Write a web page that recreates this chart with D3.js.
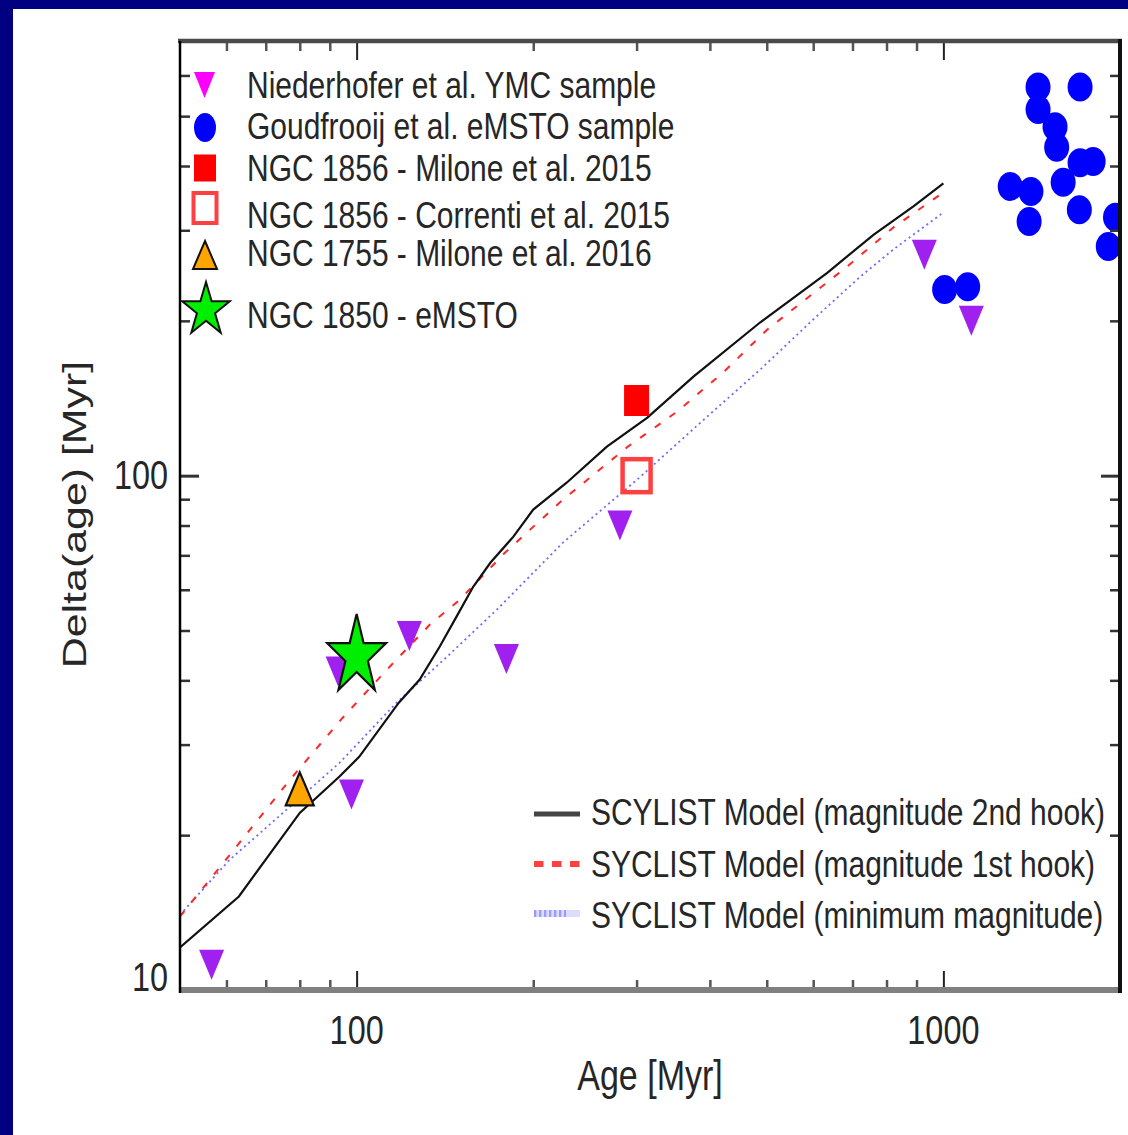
<!DOCTYPE html>
<html>
<head>
<meta charset="utf-8">
<script src="https://cdn.jsdelivr.net/npm/d3@7"></script>
<style>
  body { margin: 0; background: #fff; }
  text { font-family: "Liberation Sans", Arial, sans-serif; fill: #262626; }
</style>
</head>
<body>
<script>
// ---- data (Age and Delta(age), both in Myr) ----
const ymcAge   = [56.6, 98, 93, 123, 180, 281, 928, 1116]
const ymcDelta = [11.2, 24, 41.6, 48.8, 44, 80, 269, 200]

const emstoAge   = [1450, 1710, 1450, 1550, 1560, 1710, 1800, 1600, 1705, 1300, 1410, 1400, 1965, 1910, 1005, 1100]
const emstoDelta = [570, 570, 515, 477, 435, 406, 408, 372, 329, 365, 357, 312, 318, 279, 230, 233]

const milone15Age = [300],  milone15Delta = [140]
const correntiAge = [300],  correntiDelta = [100]
const milone16Age = [80],   milone16Delta = [24.6]
const ngc1850Age  = [100],  ngc1850Delta  = [44.6]

// SYCLIST model curves
const hook2Age   = [50, 63, 80, 93.5, 101, 118, 128, 138.5, 148, 158, 169, 185, 200, 228, 267, 313, 375, 487, 634, 760, 889, 1000]
const hook2Delta = [12.1, 15.2, 22.1, 26, 28.4, 36.2, 40.1, 46.5, 53.2, 60.8, 67.7, 76.1, 85.9, 96.9, 113.9, 129.7, 155.8, 198.5, 248, 294, 334, 370]
const hook1Age   = [50, 62.4, 76.9, 94.6, 112.5, 133.2, 149.9, 178.9, 224.7, 290, 351.6, 421.3, 501, 685.7, 821.8, 1000]
const hook1Delta = [13.9, 19, 25.6, 33.8, 41.9, 51.3, 57.4, 70.8, 89.8, 113.9, 133.2, 158.7, 192.3, 255.1, 303.8, 355.4]
const minAge     = [50, 60.7, 75.9, 93.5, 117, 142.4, 173.4, 224.7, 300.5, 395.6, 487.3, 600, 721.9, 821.8, 1000]
const minDelta   = [14.0, 17.9, 22.4, 27.65, 36.2, 44.4, 54.9, 74.1, 98.2, 130.2, 160.8, 201.2, 243.8, 275.3, 324.9]

// ticks
const xMajor = [100, 1000]
const xMinor = [60, 70, 80, 90, 200, 300, 400, 500, 600, 700, 800, 900]
const yMajor = [10, 100]
const yMinor = [20, 30, 40, 50, 60, 70, 80, 90, 200, 300, 400, 500, 600]
const xTickLabels = ["100", "1000"]
const yTickLabels = ["10", "100"]

const legendTop = [
  "Niederhofer et al. YMC sample",
  "Goudfrooij et al. eMSTO sample",
  "NGC 1856 - Milone et al. 2015",
  "NGC 1856 - Correnti et al. 2015",
  "NGC 1755 - Milone et al. 2016",
  "NGC 1850 - eMSTO"
]
const legendModels = [
  "SCYLIST Model (magnitude 2nd hook)",
  "SYCLIST Model (magnitude 1st hook)",
  "SYCLIST Model (minimum magnitude)"
]

const zip = (a, b) => a.map((d, i) => ({x: d, y: b[i]}))

// ---- layout ----
const W = 1128, H = 1135
const L = 180, R = 1120, T = 41, B = 990
const SX = 0.81   // glyphs in the picture are horizontally squeezed

const svg = d3.select("body").append("svg")
  .attr("width", W).attr("height", H)

svg.append("rect").attr("width", W).attr("height", H).attr("fill", "#fff")
svg.append("rect").attr("width", W).attr("height", 9).attr("fill", "#000080")
svg.append("rect").attr("width", 13).attr("height", H).attr("fill", "#000080")

const x = d3.scaleLog().domain([50, 2000]).range([L, R])
const y = d3.scaleLog().domain([10, 700]).range([B, T])

function label(g, px, py, str, size, anchor) {
  return g.append("text")
    .attr("transform", "translate(" + px + "," + py + ") scale(" + SX + ",1)")
    .attr("font-size", size)
    .attr("text-anchor", anchor || "start")
    .text(str)
}

svg.append("clipPath").attr("id", "plotclip")
  .append("rect").attr("x", L).attr("y", T).attr("width", R - L).attr("height", B - T)

const plot = svg.append("g").attr("clip-path", "url(#plotclip)")

// ---- model lines ----
const line = d3.line().x(d => x(d.x)).y(d => y(d.y))

plot.append("path").datum(zip(minAge, minDelta))
  .attr("d", line).attr("fill", "none")
  .attr("stroke", "#6b6bff").attr("stroke-width", 1.8).attr("stroke-dasharray", "2,3.5")

plot.append("path").datum(zip(hook1Age, hook1Delta))
  .attr("d", line).attr("fill", "none")
  .attr("stroke", "#ff2626").attr("stroke-width", 2).attr("stroke-dasharray", "7,11")

plot.append("path").datum(zip(hook2Age, hook2Delta))
  .attr("d", line).attr("fill", "none")
  .attr("stroke", "#111").attr("stroke-width", 2.2)

// ---- marker shapes ----
const triDown = (w, h) => "M" + (-w/2) + "," + (-h/2) + "L" + (w/2) + "," + (-h/2) + "L0," + (h/2) + "Z"
const triUp = (w, h) => "M0," + (-h/2) + "L" + (w/2) + "," + (h/2) + "L" + (-w/2) + "," + (h/2) + "Z"
const starUnit = d3.symbol(d3.symbolStar, 1 / 0.8908130915292852)()
// star has its tip at top; outer radius 1, centre at origin

// YMC sample
plot.selectAll(".ymc").data(zip(ymcAge, ymcDelta)).enter()
  .append("path").attr("class", "ymc")
  .attr("transform", d => "translate(" + x(d.x) + "," + y(d.y) + ")")
  .attr("d", triDown(25, 30)).attr("fill", "#a020f0")

// eMSTO sample
plot.selectAll(".emsto").data(zip(emstoAge, emstoDelta)).enter()
  .append("ellipse").attr("class", "emsto")
  .attr("cx", d => x(d.x)).attr("cy", d => y(d.y))
  .attr("rx", 12.5).attr("ry", 14.5).attr("fill", "#0000ff")

// NGC 1856 Milone
plot.selectAll(".m15").data(zip(milone15Age, milone15Delta)).enter()
  .append("rect").attr("class", "m15")
  .attr("x", d => x(d.x) - 12.5).attr("y", d => y(d.y) - 15.5)
  .attr("width", 25).attr("height", 31).attr("fill", "#ff0000")

// NGC 1856 Correnti
plot.selectAll(".c15").data(zip(correntiAge, correntiDelta)).enter()
  .append("rect").attr("class", "c15")
  .attr("x", d => x(d.x) - 14).attr("y", d => y(d.y) - 16.5)
  .attr("width", 28).attr("height", 33).attr("fill", "none")
  .attr("stroke", "#ff4040").attr("stroke-width", 4.5)

// NGC 1755
plot.selectAll(".m16").data(zip(milone16Age, milone16Delta)).enter()
  .append("path").attr("class", "m16")
  .attr("transform", d => "translate(" + x(d.x) + "," + y(d.y) + ")")
  .attr("d", triUp(28, 33)).attr("fill", "#ffa500")
  .attr("stroke", "#111").attr("stroke-width", 2.2).attr("stroke-linejoin", "miter")

// NGC 1850
plot.selectAll(".n1850").data(zip(ngc1850Age, ngc1850Delta)).enter()
  .append("path").attr("class", "n1850")
  .attr("transform", d => "translate(" + x(d.x) + "," + (y(d.y)) + ") scale(31,42)")
  .attr("d", starUnit).attr("fill", "#00ee00")
  .attr("stroke", "#111").attr("stroke-width", 2.2).attr("vector-effect", "non-scaling-stroke")

// ---- axes (ticks on all four sides, pointing inward) ----
function styleTicks(g, color, width) {
  g.select(".domain").remove()
  g.selectAll(".tick line").attr("stroke", color).attr("stroke-width", width)
}
svg.append("g").attr("transform", "translate(0," + B + ")")
  .call(d3.axisBottom(x).tickValues(xMinor).tickSize(-10).tickFormat(""))
  .call(styleTicks, "#555", 2.5)
svg.append("g").attr("transform", "translate(0," + B + ")")
  .call(d3.axisBottom(x).tickValues(xMajor).tickSize(-19).tickFormat(""))
  .call(styleTicks, "#222", 2)
svg.append("g").attr("transform", "translate(0," + T + ")")
  .call(d3.axisTop(x).tickValues(xMinor).tickSize(-10).tickFormat(""))
  .call(styleTicks, "#555", 2.5)
svg.append("g").attr("transform", "translate(0," + T + ")")
  .call(d3.axisTop(x).tickValues(xMajor).tickSize(-19).tickFormat(""))
  .call(styleTicks, "#222", 2)
svg.append("g").attr("transform", "translate(" + L + ",0)")
  .call(d3.axisLeft(y).tickValues(yMinor).tickSize(-10).tickFormat(""))
  .call(styleTicks, "#333", 2.5)
svg.append("g").attr("transform", "translate(" + L + ",0)")
  .call(d3.axisLeft(y).tickValues(yMajor).tickSize(-19).tickFormat(""))
  .call(styleTicks, "#333", 3)
svg.append("g").attr("transform", "translate(" + R + ",0)")
  .call(d3.axisRight(y).tickValues(yMinor).tickSize(-10).tickFormat(""))
  .call(styleTicks, "#333", 2.5)
svg.append("g").attr("transform", "translate(" + R + ",0)")
  .call(d3.axisRight(y).tickValues(yMajor).tickSize(-19).tickFormat(""))
  .call(styleTicks, "#333", 3)

// frame
svg.append("line").attr("x1", L - 2).attr("x2", R + 2).attr("y1", T).attr("y2", T)
  .attr("stroke", "#4a4a4a").attr("stroke-width", 4.5)
svg.append("line").attr("x1", L).attr("x2", R).attr("y1", B).attr("y2", B)
  .attr("stroke", "#808080").attr("stroke-width", 6)
svg.append("line").attr("x1", L).attr("x2", L).attr("y1", T).attr("y2", B + 3)
  .attr("stroke", "#000").attr("stroke-width", 2.5)
svg.append("line").attr("x1", R).attr("x2", R).attr("y1", T - 2).attr("y2", B + 3)
  .attr("stroke", "#111").attr("stroke-width", 4)

// tick labels
xMajor.forEach((v, i) => label(svg, x(v), 1044, xTickLabels[i], 40, "middle"))
yMajor.forEach((v, i) => label(svg, 168, v === 10 ? y(v) + 1 : y(v) + 13, yTickLabels[i], 40, "end"))

// axis titles
label(svg, (L + R) / 2, 1090, "Age [Myr]", 42, "middle")
svg.append("text")
  .attr("transform", "translate(86," + ((T + B) / 2 - 1) + ") rotate(-90) scale(1.3,1)")
  .attr("font-size", 33).attr("text-anchor", "middle")
  .text("Delta(age) [Myr]")

// ---- legend, upper left ----
const lg = svg.append("g")
const rowBase = [98, 138.5, 181, 228, 266, 328]
const rowMid  = [85, 127.5, 168, 208, 255, 310]
legendTop.forEach((t, i) => label(lg, 247, rowBase[i], t, 37))

lg.append("path").attr("transform", "translate(204.5," + rowMid[0] + ")")
  .attr("d", triDown(21, 26)).attr("fill", "#ff00ff")
lg.append("ellipse").attr("cx", 205).attr("cy", rowMid[1]).attr("rx", 11).attr("ry", 14.5)
  .attr("fill", "#0000ff")
lg.append("rect").attr("x", 194).attr("y", rowMid[2] - 13.5).attr("width", 22).attr("height", 27)
  .attr("fill", "#ff0000")
lg.append("rect").attr("x", 193.5).attr("y", rowMid[3] - 15).attr("width", 23).attr("height", 30)
  .attr("fill", "none").attr("stroke", "#ff4040").attr("stroke-width", 4)
lg.append("path").attr("transform", "translate(205," + rowMid[4] + ")")
  .attr("d", triUp(24, 28)).attr("fill", "#ffa500")
  .attr("stroke", "#111").attr("stroke-width", 2)
lg.append("path").attr("transform", "translate(206," + rowMid[5] + ") scale(25,28)")
  .attr("d", starUnit).attr("fill", "#00ee00")
  .attr("stroke", "#111").attr("stroke-width", 2).attr("vector-effect", "non-scaling-stroke")

// ---- legend, lower right ----
const lm = svg.append("g")
const mBase = [825, 877, 928]
const mMid  = [814, 864, 913.5]
legendModels.forEach((t, i) => label(lm, 591, mBase[i], t, 37))
lm.append("line").attr("x1", 534).attr("x2", 580).attr("y1", mMid[0]).attr("y2", mMid[0])
  .attr("stroke", "#444").attr("stroke-width", 5)
lm.append("line").attr("x1", 534).attr("x2", 580).attr("y1", mMid[1]).attr("y2", mMid[1])
  .attr("stroke", "#ff4040").attr("stroke-width", 6).attr("stroke-dasharray", "9.5,8.5")
lm.append("line").attr("x1", 534).attr("x2", 580).attr("y1", mMid[2]).attr("y2", mMid[2])
  .attr("stroke", "#dcdcff").attr("stroke-width", 7)
lm.append("line").attr("x1", 534).attr("x2", 566).attr("y1", mMid[2]).attr("y2", mMid[2])
  .attr("stroke", "#9a9aff").attr("stroke-width", 7).attr("stroke-dasharray", "2.3,2.7")
</script>
</body>
</html>
